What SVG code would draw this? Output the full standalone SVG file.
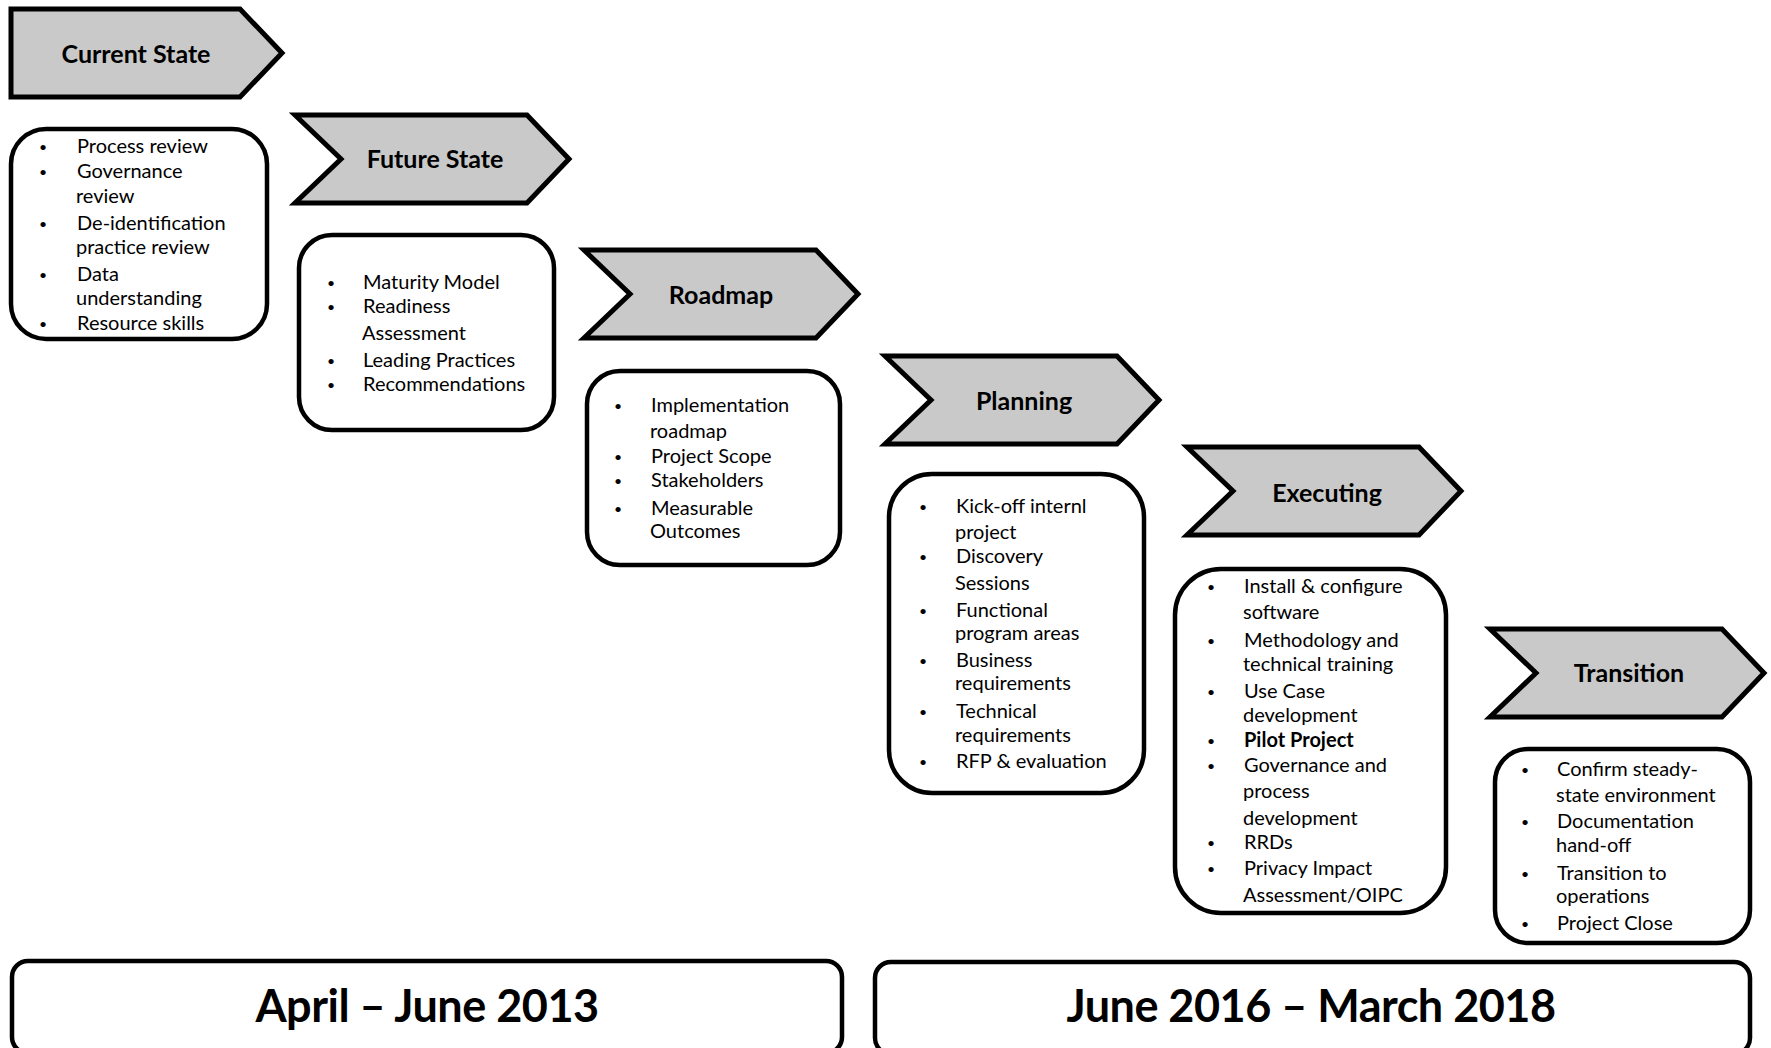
<svg xmlns="http://www.w3.org/2000/svg" width="1771" height="1048" viewBox="0 0 1771 1048">
<defs>
<style>
.chev{fill:#c9c9c9;stroke:#000;stroke-width:5;stroke-linejoin:miter;stroke-miterlimit:10}
.box{fill:#fff;stroke:#000;stroke-width:4.5}
.hd{font-family:Lato,"Open Sans","Liberation Sans",sans-serif;font-weight:bold;font-size:25px;fill:#000;text-anchor:middle}
.tx{font-family:Lato,"Open Sans","Liberation Sans",sans-serif;font-size:20px;fill:#000}
.bu{font-family:Lato,"Open Sans","Liberation Sans",sans-serif;font-size:14px;fill:#000;text-anchor:middle}
.b{font-weight:bold}
.big{font-family:Lato,"Open Sans","Liberation Sans",sans-serif;font-weight:bold;font-size:45px;fill:#000;text-anchor:middle;letter-spacing:-0.5px}
</style>
<path id="chevShape" d="M2,2 H234 L276,46 L234,90 H2 L48,46 Z"/>
</defs>
<rect width="1771" height="1048" fill="#fff"/>

<g id="current-state">
<path class="chev" d="M11,9 H240 L282,53 L240,97 H11 Z"/>
<text class="hd" x="136" y="63">Current State</text>
</g>
<g id="current-state-items">
<rect class="box" x="11" y="129" width="256" height="210" rx="35"/>
<g class="bu"><text x="43" y="152">•</text><text x="43" y="177">•</text><text x="43" y="229">•</text><text x="43" y="280">•</text><text x="43" y="329">•</text></g>
<g class="tx">
<text x="77" y="153">Process review</text>
<text x="77" y="178">Governance</text>
<text x="76" y="203">review</text>
<text x="77" y="230">De-identification</text>
<text x="76" y="254">practice review</text>
<text x="77" y="281">Data</text>
<text x="76" y="305">understanding</text>
<text x="77" y="330">Resource skills</text>
</g>
</g>

<g id="future-state">
<use href="#chevShape" class="chev" x="293" y="113"/>
<text class="hd" x="435" y="168">Future State</text>
</g>
<g id="future-state-items">
<rect class="box" x="299" y="235" width="255" height="195" rx="33"/>
<g class="bu"><text x="331" y="288">•</text><text x="331" y="312">•</text><text x="331" y="366">•</text><text x="331" y="390">•</text></g>
<g class="tx">
<text x="363" y="289">Maturity Model</text>
<text x="363" y="313">Readiness</text>
<text x="362" y="340">Assessment</text>
<text x="363" y="367">Leading Practices</text>
<text x="363" y="391">Recommendations</text>
</g>
</g>

<g id="roadmap">
<use href="#chevShape" class="chev" x="582" y="248"/>
<text class="hd" x="721" y="304">Roadmap</text>
</g>
<g id="roadmap-items">
<rect class="box" x="587" y="371" width="253" height="194" rx="33"/>
<g class="bu"><text x="618" y="411">•</text><text x="618" y="462">•</text><text x="618" y="486">•</text><text x="618" y="514">•</text></g>
<g class="tx">
<text x="651" y="412">Implementation</text>
<text x="650" y="438">roadmap</text>
<text x="651" y="463">Project Scope</text>
<text x="651" y="487">Stakeholders</text>
<text x="651" y="515">Measurable</text>
<text x="650" y="538">Outcomes</text>
</g>
</g>

<g id="planning">
<use href="#chevShape" class="chev" x="883" y="354"/>
<text class="hd" x="1024" y="410">Planning</text>
</g>
<g id="planning-items">
<rect class="box" x="889" y="474" width="255" height="319" rx="43"/>
<g class="bu"><text x="923" y="512">•</text><text x="923" y="562">•</text><text x="923" y="616">•</text><text x="923" y="666">•</text><text x="923" y="717">•</text><text x="923" y="767">•</text></g>
<g class="tx">
<text x="956" y="513">Kick-off internl</text>
<text x="955" y="539">project</text>
<text x="956" y="563">Discovery</text>
<text x="955" y="590">Sessions</text>
<text x="956" y="617">Functional</text>
<text x="955" y="640">program areas</text>
<text x="956" y="667">Business</text>
<text x="955" y="690">requirements</text>
<text x="956" y="718">Technical</text>
<text x="955" y="742">requirements</text>
<text x="956" y="768">RFP &amp; evaluation</text>
</g>
</g>

<g id="executing">
<use href="#chevShape" class="chev" x="1185" y="445"/>
<text class="hd" x="1327" y="502">Executing</text>
</g>
<g id="executing-items">
<rect class="box" x="1175" y="569" width="271" height="344" rx="46"/>
<g class="bu"><text x="1211" y="592">•</text><text x="1211" y="646">•</text><text x="1211" y="697">•</text><text x="1211" y="746">•</text><text x="1211" y="771">•</text><text x="1211" y="848">•</text><text x="1211" y="874">•</text></g>
<g class="tx">
<text x="1244" y="593">Install &amp; configure</text>
<text x="1243" y="619">software</text>
<text x="1244" y="647">Methodology and</text>
<text x="1243" y="671">technical training</text>
<text x="1244" y="698">Use Case</text>
<text x="1243" y="722">development</text>
<text x="1244" y="747" class="b">Pilot Project</text>
<text x="1244" y="772">Governance and</text>
<text x="1243" y="798">process</text>
<text x="1243" y="825">development</text>
<text x="1244" y="849">RRDs</text>
<text x="1244" y="875">Privacy Impact</text>
<text x="1243" y="902">Assessment/OIPC</text>
</g>
</g>

<g id="transition">
<use href="#chevShape" class="chev" x="1488" y="627"/>
<text class="hd" x="1629" y="682">Transition</text>
</g>
<g id="transition-items">
<rect class="box" x="1495" y="749" width="255" height="194" rx="33"/>
<g class="bu"><text x="1525" y="775">•</text><text x="1525" y="827">•</text><text x="1525" y="879">•</text><text x="1525" y="929">•</text></g>
<g class="tx">
<text x="1557" y="776">Confirm steady-</text>
<text x="1556" y="802">state environment</text>
<text x="1557" y="828">Documentation</text>
<text x="1556" y="852">hand-off</text>
<text x="1557" y="880">Transition to</text>
<text x="1556" y="903">operations</text>
<text x="1557" y="930">Project Close</text>
</g>
</g>

<g id="period-2013">
<rect class="box" x="12" y="961" width="830" height="92" rx="16"/>
<text class="big" x="427" y="1022">April – June 2013</text>
</g>
<g id="period-2016-2018">
<rect class="box" x="875" y="962" width="875" height="92" rx="16"/>
<text class="big" x="1311" y="1022">June 2016 – March 2018</text>
</g>
</svg>
